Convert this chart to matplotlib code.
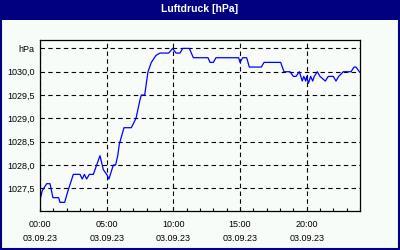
import matplotlib
matplotlib.use("Agg")
import matplotlib.pyplot as plt
from matplotlib.patches import Rectangle
from matplotlib.ticker import FixedLocator, MultipleLocator

# Luftdruck 03.09.23, Stunden seit 00:00
hours = [0.0, 0.17, 0.5, 0.75, 0.97, 1.4, 1.5, 1.85, 2.1, 2.5, 3.0, 3.17, 3.33,
         3.5, 3.7, 4.0, 4.5, 4.75, 5.0, 5.17, 5.5, 5.67, 5.83, 5.95, 6.1, 6.3,
         6.85, 7.2, 7.5, 7.6, 7.85, 8.1, 8.35, 8.7, 9.0, 9.65, 9.95, 10.2, 10.5,
         10.7, 11.2, 11.5, 12.6, 12.75, 13.0, 13.2, 14.9, 15.0, 15.2, 15.5, 15.7,
         16.6, 16.8, 18.05, 18.3, 18.75, 19.0, 19.2, 19.45, 19.67, 19.78, 19.93,
         20.0, 20.13, 20.3, 20.45, 20.57, 20.8, 21.0, 21.4, 21.62, 22.0, 22.2,
         22.4, 22.75, 23.33, 23.55, 23.7, 23.95]
pressure = [1027.25, 1027.45, 1027.6, 1027.6, 1027.3, 1027.3, 1027.2, 1027.2,
            1027.45, 1027.8, 1027.8, 1027.7, 1027.8, 1027.7, 1027.8, 1027.8,
            1028.2, 1027.9, 1027.8, 1027.7, 1028.0, 1028.0, 1028.2, 1028.45,
            1028.6, 1028.8, 1028.8, 1029.0, 1029.4, 1029.5, 1029.5, 1030.0,
            1030.2, 1030.35, 1030.4, 1030.4, 1030.5, 1030.4, 1030.4, 1030.5,
            1030.5, 1030.3, 1030.3, 1030.2, 1030.2, 1030.3, 1030.3, 1030.2,
            1030.3, 1030.3, 1030.1, 1030.1, 1030.2, 1030.2, 1030.0, 1030.0,
            1029.9, 1029.9, 1030.0, 1029.8, 1029.9, 1029.8, 1029.9, 1029.75,
            1029.9, 1029.8, 1029.9, 1030.0, 1029.9, 1029.8, 1029.9, 1029.9,
            1029.8, 1029.9, 1030.0, 1030.0, 1030.1, 1030.1, 1030.0]

y_ticks = [1027.5, 1028.0, 1028.5, 1029.0, 1029.5, 1030.0, 1030.5]
y_labels = ["1027,5", "1028,0", "1028,5", "1029,0", "1029,5", "1030,0", "hPa"]
x_ticks = [0, 5, 10, 15, 20]
x_labels = ["00:00\n03.09.23", "05:00\n03.09.23", "10:00\n03.09.23",
            "15:00\n03.09.23", "20:00\n03.09.23"]

navy = "#000080"
bg = "#f8fcf8"

plt.rcParams['font.family'] = ['Liberation Sans', 'DejaVu Sans']

fig = plt.figure(figsize=(4, 2.5), dpi=100, facecolor=bg)
ax = fig.add_axes([0.1, 0.157, 0.8, 0.683], facecolor=bg)

ax.plot(hours, pressure, color="#0000ff", lw=0.9)

ax.set_xlim(0, 24)
ax.set_ylim(1027.02, 1030.68)

ax.yaxis.set_major_locator(FixedLocator(y_ticks))
ax.set_yticklabels(y_labels)
ax.xaxis.set_major_locator(FixedLocator(x_ticks))
ax.xaxis.set_minor_locator(MultipleLocator(1))
ax.set_xticklabels(x_labels, linespacing=1.6)

ax.tick_params(axis='y', length=0, pad=4, labelsize=6.5)
ax.tick_params(axis='x', which='both', direction='in', length=2.5, width=0.8,
               pad=7, labelsize=6.5)

ax.grid(True, which='major', color='black', lw=0.8, linestyle=(0, (4, 3)))
for s in ax.spines.values():
    s.set_color('black')
    s.set_linewidth(0.9)

# Titelleiste und Rahmen
fig.patches.append(Rectangle((0, 0.92), 1, 0.08, transform=fig.transFigure,
                             facecolor=navy, edgecolor='none', zorder=0))
fig.patches.append(Rectangle((0.003, 0.004), 0.994, 0.992, transform=fig.transFigure,
                             facecolor='none', edgecolor=navy, lw=1.5, zorder=1))
fig.text(0.5, 0.966, "Luftdruck [hPa]", color='white', fontweight='bold',
         fontsize=7.5, ha='center', va='center')

fig.savefig("out.png", dpi=100, facecolor=bg)
